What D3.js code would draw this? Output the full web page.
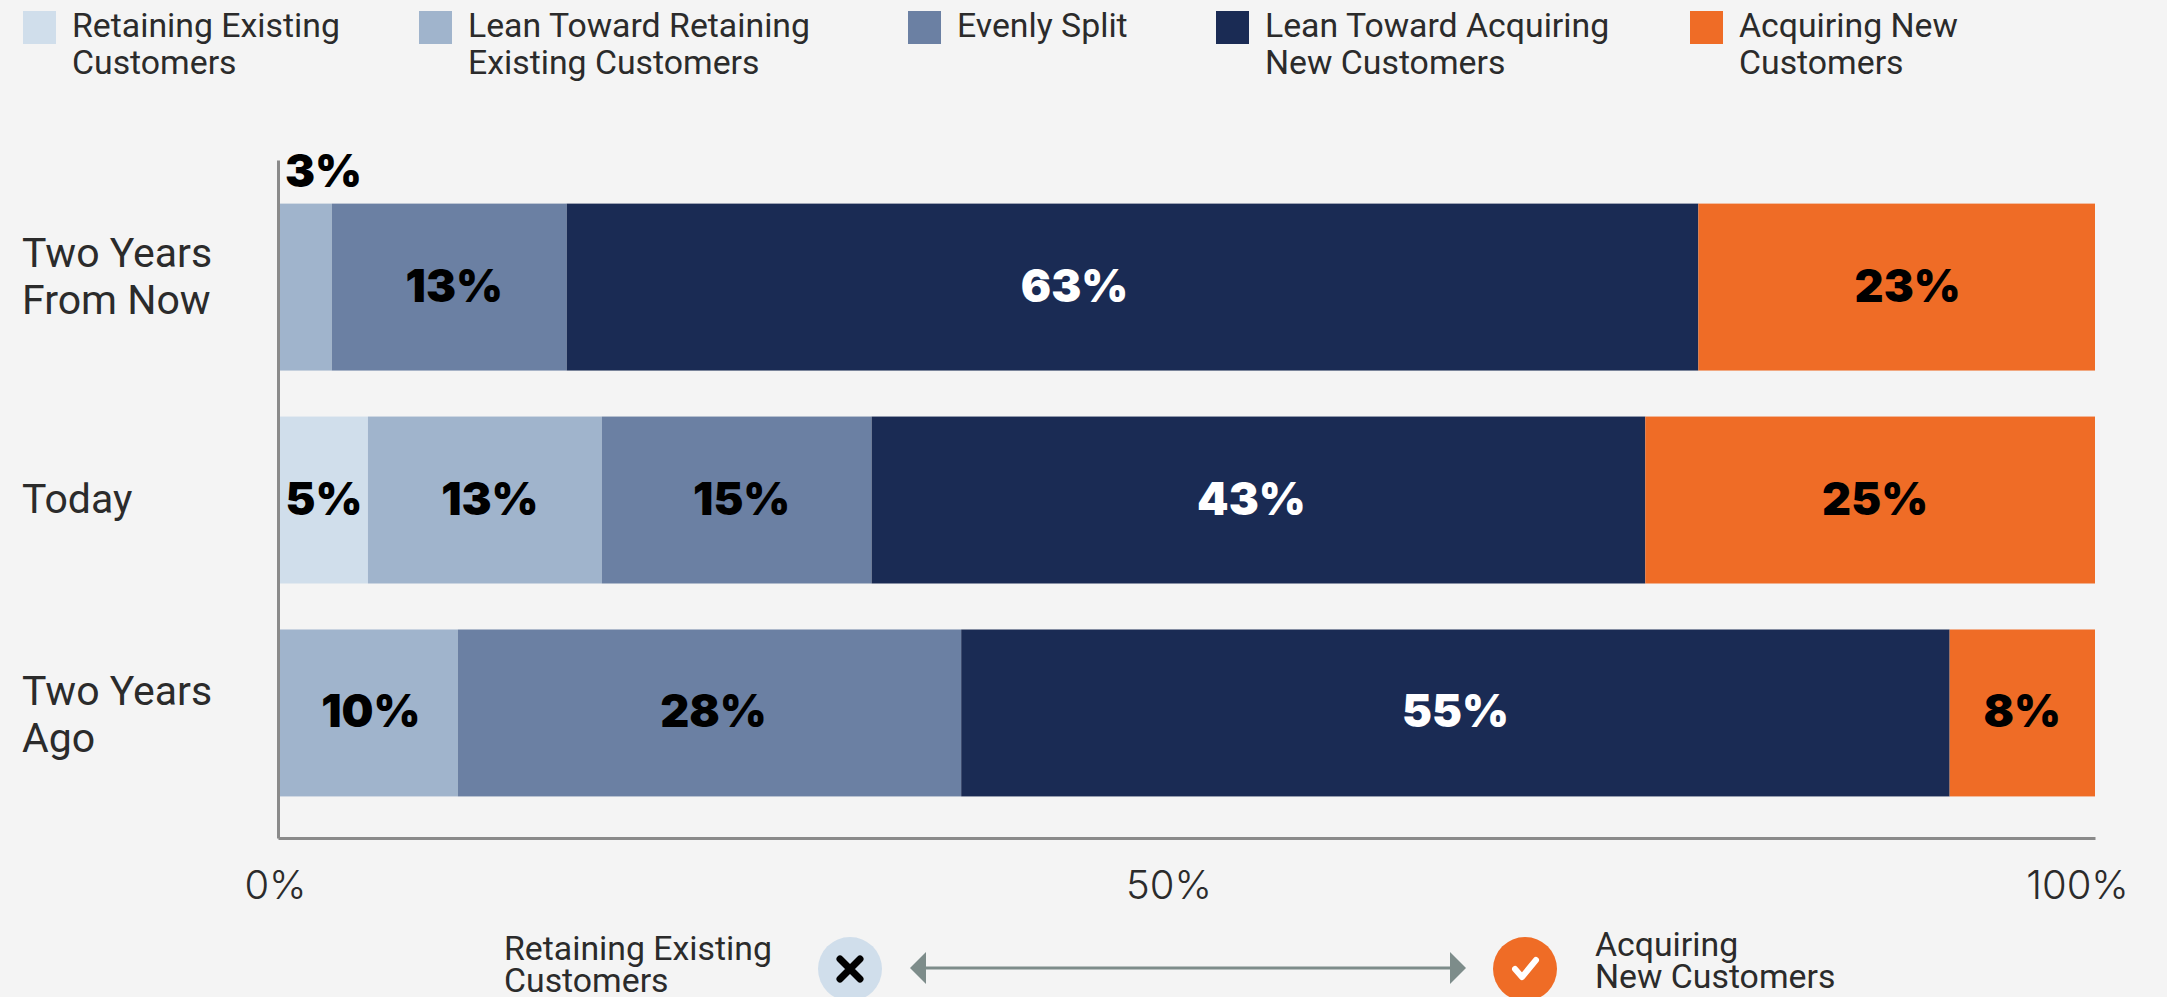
<!DOCTYPE html>
<html>
<head>
<meta charset="utf-8">
<script src="https://cdn.jsdelivr.net/npm/d3@7"></script>
<style>
    html, body { margin: 0; padding: 0; background: #f4f4f4; overflow: hidden; }
    svg { display: block; }
    text { font-family: Inter, Roboto, sans-serif; fill: #2b2b2b; }
</style>
</head>
<body>
<div id="chart"></div>
<script>
// rows, top to bottom ("|" breaks the label onto a second line)
const categories = ["Two Years|From Now", "Today", "Two Years|Ago"];
const seriesNames = ["Retaining", "LeanRetaining", "Even", "LeanAcquiring", "Acquiring"];

// bar lengths, each row fills the whole axis
const retaining = [0, 4.95, 0];
const leanRetaining = [2.96, 12.87, 9.9];
const evenSplit = [12.93, 14.85, 27.7];
const leanAcquiring = [62.28, 42.58, 54.4];
const acquiring = [21.83, 24.75, 8.0];

// printed labels (they add up to a little over 100 in the source)
const retainingLabels = ["", "5%", ""];
const leanRetainingLabels = ["3%", "13%", "10%"];
const evenSplitLabels = ["13%", "15%", "28%"];
const leanAcquiringLabels = ["63%", "43%", "55%"];
const acquiringLabels = ["23%", "25%", "8%"];

const seriesColors = ["#d0deeb", "#a0b4cc", "#6b80a3", "#1a2b54", "#ef6c26"];
const labelColors = ["#000", "#000", "#000", "#fff", "#000"];
const legendLabels = [
    ["Retaining Existing", "Customers"],
    ["Lean Toward Retaining", "Existing Customers"],
    ["Evenly Split"],
    ["Lean Toward Acquiring", "New Customers"],
    ["Acquiring New", "Customers"]
];
const xTicks = [0, 50, 100];

// hand placement, the source labels do not sit exactly mid-segment
const legendX = [23, 419, 908, 1216, 1690];
const xTickNudge = [-3, -18, -18];
const labelNudge = [
    [0, 1, 0],
    [0, 5, 3],
    [5, 5, 4],
    [-58, -7, 0],
    [11, 5, 0]
];
const rowLabelNudge = [-11, -1, 1];

const width = 2167, height = 997;

const seriesValues = [retaining, leanRetaining, evenSplit, leanAcquiring, acquiring];
const seriesLabels = [retainingLabels, leanRetainingLabels, evenSplitLabels, leanAcquiringLabels, acquiringLabels];

const rows = categories.map((c, i) => {
    const row = { category: c };
    seriesNames.forEach((s, j) => { row[s] = seriesValues[j][i]; });
    return row;
});

const stacked = d3.stack().keys(seriesNames)(rows);

const svg = d3.select("#chart")
    .append("svg")
    .attr("width", width)
    .attr("height", height);

const x = d3.scaleLinear().domain([0, 100]).range([278, 2095]);

const y = d3.scaleBand()
    .domain(categories)
    .range([160, 838])
    .paddingInner(0.216)
    .paddingOuter(0.2)
    .align(0.512);

// =========================
// BARS
// =========================
const groups = svg.selectAll("g.series")
    .data(stacked)
    .enter()
    .append("g")
    .attr("class", "series")
    .attr("fill", (d, i) => seriesColors[i]);

groups.selectAll("rect")
    .data(d => d)
    .enter()
    .append("rect")
    .attr("x", d => x(d[0]))
    .attr("y", d => y(d.data.category))
    .attr("width", d => x(d[1]) - x(d[0]))
    .attr("height", y.bandwidth());

// small segments get their label above the bar
groups.each(function (s, i) {
    d3.select(this).selectAll("text")
        .data(s)
        .enter()
        .append("text")
        .attr("x", (d, j) => (d[1] - d[0]) < 4 ? x(d[0]) + 7 : x((d[0] + d[1]) / 2) + labelNudge[i][j])
        .attr("y", d => (d[1] - d[0]) < 4 ? y(d.data.category) - 33 : y(d.data.category) + y.bandwidth() / 2 - 2)
        .attr("text-anchor", d => (d[1] - d[0]) < 4 ? "start" : "middle")
        .attr("dominant-baseline", "central")
        .style("font-size", "45px")
        .style("font-weight", 900)
        .style("fill", labelColors[i])
        .text((d, j) => seriesLabels[i][j]);
});

// =========================
// AXES
// =========================
const xAxis = svg.append("g")
    .attr("transform", `translate(0,${y.range()[1]})`)
    .call(d3.axisBottom(x).tickValues(xTicks).tickFormat(d => d + "%").tickSize(0).tickSizeOuter(0));
xAxis.select(".domain").attr("stroke", "#8a8a8a").attr("stroke-width", 3);
xAxis.selectAll(".tick text")
    .attr("dx", (d, i) => xTickNudge[i])
    .attr("y", 33)
    .attr("dy", "0.71em")
    .style("font-size", "40px")
    .style("font-family", "Inter, Roboto, sans-serif")
    .style("font-weight", 300);

const yAxis = svg.append("g")
    .attr("transform", `translate(${x(0)},0)`)
    .call(d3.axisLeft(y).tickSize(0).tickSizeOuter(0));
yAxis.select(".domain").attr("stroke", "#8a8a8a").attr("stroke-width", 3);
yAxis.selectAll(".tick text").each(function (d, k) {
    const parts = d.split("|");
    const t = d3.select(this)
        .text(null)
        .attr("text-anchor", "start")
        .attr("x", 22 - x(0))
        .attr("dy", null)
        .style("font-size", "41px")
        .style("font-family", "Roboto, sans-serif")
        .style("font-weight", 400);
    parts.forEach((p, i) => {
        t.append("tspan")
            .attr("x", 22 - x(0))
            .attr("y", (i - (parts.length - 1) / 2) * 47 + rowLabelNudge[k])
            .attr("dy", "0.35em")
            .text(p);
    });
});

// =========================
// LEGEND
// =========================
const legend = svg.selectAll("g.legend")
    .data(legendLabels)
    .enter()
    .append("g")
    .attr("class", "legend")
    .attr("transform", (d, i) => `translate(${legendX[i]},11)`);

legend.append("rect")
    .attr("width", 33)
    .attr("height", 33)
    .attr("fill", (d, i) => seriesColors[i]);

legend.each(function (lines) {
    d3.select(this).selectAll("text")
        .data(lines)
        .enter()
        .append("text")
        .attr("x", 49)
        .attr("y", (d, i) => 26 + i * 37)
        .style("font-family", "Roboto, sans-serif")
        .style("font-size", "33.8px")
        .style("font-weight", 400)
        .text(d => d);
});

// =========================
// BOTTOM KEY
// =========================
const key = svg.append("g").attr("class", "key");

key.append("line")
    .attr("x1", 912).attr("x2", 1464)
    .attr("y1", 968).attr("y2", 968)
    .attr("stroke", "#7d8c8a")
    .attr("stroke-width", 3);
key.append("path").attr("d", "M910,968L926,952V984Z").attr("fill", "#7d8c8a");
key.append("path").attr("d", "M1466,968L1450,952V984Z").attr("fill", "#7d8c8a");

key.append("circle").attr("cx", 850).attr("cy", 969).attr("r", 32).attr("fill", "#d0deeb");
key.append("path")
    .attr("d", "M840,959L860,979M860,959L840,979")
    .attr("stroke", "#000").attr("stroke-width", 7).attr("stroke-linecap", "round");

key.append("circle").attr("cx", 1525).attr("cy", 969).attr("r", 32).attr("fill", "#ef6c26");
key.append("path")
    .attr("d", "M1515,969L1522,977L1536,960")
    .attr("fill", "none")
    .attr("stroke", "#fff").attr("stroke-width", 6).attr("stroke-linecap", "round").attr("stroke-linejoin", "round");

const keyText = [
    { x: 504, y: 960, t: "Retaining Existing" },
    { x: 504, y: 992, t: "Customers" },
    { x: 1595, y: 956, t: "Acquiring" },
    { x: 1595, y: 988, t: "New Customers" }
];
key.selectAll("text")
    .data(keyText)
    .enter()
    .append("text")
    .attr("x", d => d.x)
    .attr("y", d => d.y)
    .style("font-family", "Roboto, sans-serif")
    .style("font-size", "33.8px")
    .text(d => d.t);
</script>
</body>
</html>
